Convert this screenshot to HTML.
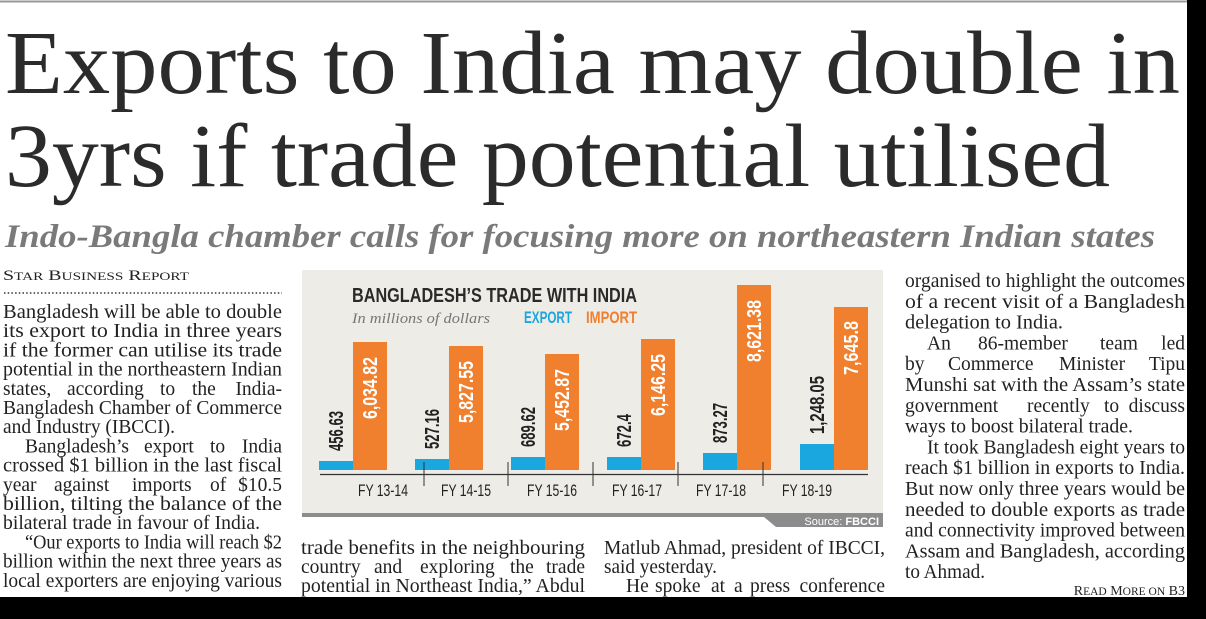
<!DOCTYPE html>
<html><head><meta charset="utf-8"><style>
html,body{margin:0;padding:0;background:#fff;}
svg{display:block;}
.b{font-family:"Liberation Serif",serif;font-size:19.5px;fill:#222;}
.n{font-family:"Liberation Sans Narrow","Liberation Sans",sans-serif;font-weight:bold;}
</style></head><body>
<svg width="1206" height="619" viewBox="0 0 1206 619" xmlns="http://www.w3.org/2000/svg">
<rect width="1206" height="619" fill="#fff"/>
<line x1="0" y1="1.5" x2="1187" y2="1.5" stroke="#999" stroke-width="2"/>
<g font-family="Liberation Serif, serif" fill="#2b2b2b" font-size="90">
<text x="5" y="93" textLength="1175" lengthAdjust="spacingAndGlyphs">Exports to India may double in</text>
<text x="5" y="186" textLength="1105" lengthAdjust="spacingAndGlyphs">3yrs if trade potential utilised</text>
</g>
<text x="5" y="247" font-family="Liberation Serif, serif" font-style="italic" font-weight="bold" font-size="33" fill="#7a7a7a" textLength="1150" lengthAdjust="spacingAndGlyphs">Indo-Bangla chamber calls for focusing more on northeastern Indian states</text>
<text x="3" y="280" font-family="Liberation Serif, serif" font-size="15" fill="#222" textLength="186" lengthAdjust="spacingAndGlyphs">S<tspan font-size="11.5">TAR</tspan> B<tspan font-size="11.5">USINESS</tspan> R<tspan font-size="11.5">EPORT</tspan></text>
<line x1="4" y1="293" x2="282" y2="293" stroke="#333" stroke-width="1.5" stroke-dasharray="1.5 2.2"/>
<g class="b">
<text x="3" y="318" textLength="279" lengthAdjust="spacingAndGlyphs">Bangladesh will be able to double</text>
<text x="3" y="337.2" textLength="279" lengthAdjust="spacingAndGlyphs">its export to India in three years</text>
<text x="3" y="356.4" textLength="279" lengthAdjust="spacingAndGlyphs">if the former can utilise its trade</text>
<text x="3" y="375.6" textLength="279" lengthAdjust="spacingAndGlyphs">potential in the northeastern Indian</text>
<text y="394.8"><tspan x="3">states,</tspan><tspan x="67">according</tspan><tspan x="160">to</tspan><tspan x="192">the</tspan><tspan x="282" text-anchor="end">India-</tspan></text>
<text x="3" y="414" textLength="279" lengthAdjust="spacingAndGlyphs">Bangladesh Chamber of Commerce</text>
<text x="3" y="433.2" textLength="172" lengthAdjust="spacingAndGlyphs">and Industry (IBCCI).</text>
<text y="452.4"><tspan x="25">Bangladesh’s</tspan><tspan x="144">export</tspan><tspan x="210">to</tspan><tspan x="282" text-anchor="end">India</tspan></text>
<text x="3" y="471.6" textLength="279" lengthAdjust="spacingAndGlyphs">crossed $1 billion in the last fiscal</text>
<text y="490.8"><tspan x="3">year</tspan><tspan x="54">against</tspan><tspan x="132">imports</tspan><tspan x="210">of</tspan><tspan x="282" text-anchor="end">$10.5</tspan></text>
<text x="3" y="510" textLength="279" lengthAdjust="spacingAndGlyphs">billion, tilting the balance of the</text>
<text x="3" y="529.2" textLength="257" lengthAdjust="spacingAndGlyphs">bilateral trade in favour of India.</text>
<text x="25" y="548.4" textLength="257" lengthAdjust="spacingAndGlyphs">“Our exports to India will reach $2</text>
<text x="3" y="567.6" textLength="279" lengthAdjust="spacingAndGlyphs">billion within the next three years as</text>
<text x="3" y="586.8" textLength="279" lengthAdjust="spacingAndGlyphs">local exporters are enjoying various</text>

<text x="301" y="554" textLength="284" lengthAdjust="spacingAndGlyphs">trade benefits in the neighbouring</text>
<text y="573"><tspan x="301">country</tspan><tspan x="374">and</tspan><tspan x="420">exploring</tspan><tspan x="510">the</tspan><tspan x="585" text-anchor="end">trade</tspan></text>
<text x="301" y="592" textLength="284" lengthAdjust="spacingAndGlyphs">potential in Northeast India,” Abdul</text>
<text x="604" y="554" textLength="281" lengthAdjust="spacingAndGlyphs">Matlub Ahmad, president of IBCCI,</text>
<text x="604" y="573" textLength="113" lengthAdjust="spacingAndGlyphs">said yesterday.</text>
<text y="592"><tspan x="626">He</tspan><tspan x="655">spoke</tspan><tspan x="711">at</tspan><tspan x="734">a</tspan><tspan x="750">press</tspan><tspan x="885" text-anchor="end">conference</tspan></text>

<text x="905" y="287" textLength="280" lengthAdjust="spacingAndGlyphs">organised to highlight the outcomes</text>
<text x="905" y="307.8" textLength="280" lengthAdjust="spacingAndGlyphs">of a recent visit of a Bangladesh</text>
<text x="905" y="328.6" textLength="158" lengthAdjust="spacingAndGlyphs">delegation to India.</text>
<text y="349.4"><tspan x="927">An</tspan><tspan x="978">86-member</tspan><tspan x="1100">team</tspan><tspan x="1185" text-anchor="end">led</tspan></text>
<text y="370.2"><tspan x="905">by</tspan><tspan x="948">Commerce</tspan><tspan x="1059">Minister</tspan><tspan x="1185" text-anchor="end">Tipu</tspan></text>
<text x="905" y="391" textLength="280" lengthAdjust="spacingAndGlyphs">Munshi sat with the Assam’s state</text>
<text y="411.8"><tspan x="905">government</tspan><tspan x="1027">recently</tspan><tspan x="1104">to</tspan><tspan x="1185" text-anchor="end">discuss</tspan></text>
<text x="905" y="432.6" textLength="228" lengthAdjust="spacingAndGlyphs">ways to boost bilateral trade.</text>
<text x="927" y="453.4" textLength="258" lengthAdjust="spacingAndGlyphs">It took Bangladesh eight years to</text>
<text x="905" y="474.2" textLength="280" lengthAdjust="spacingAndGlyphs">reach $1 billion in exports to India.</text>
<text x="905" y="495" textLength="280" lengthAdjust="spacingAndGlyphs">But now only three years would be</text>
<text x="905" y="515.8" textLength="280" lengthAdjust="spacingAndGlyphs">needed to double exports as trade</text>
<text x="905" y="536.6" textLength="280" lengthAdjust="spacingAndGlyphs">and connectivity improved between</text>
<text x="905" y="557.4" textLength="280" lengthAdjust="spacingAndGlyphs">Assam and Bangladesh, according</text>
<text x="905" y="578.2" textLength="80" lengthAdjust="spacingAndGlyphs">to Ahmad.</text>
</g>
<text x="1185" y="595" text-anchor="end" font-family="Liberation Serif, serif" font-size="14" fill="#222">R<tspan font-size="11.5">EAD</tspan> M<tspan font-size="11.5">ORE ON</tspan> B3</text>

<!-- chart panel -->
<rect x="302" y="270" width="581" height="243" fill="#eeece7"/>
<rect x="302" y="513" width="581" height="4" fill="#8c8c8c"/>
<polygon points="764,517 883,517 883,527 776,527" fill="#8c8c8c"/>
<text x="879" y="525" text-anchor="end" font-family="Liberation Sans, sans-serif" font-size="11" fill="#fff">Source: <tspan font-weight="bold">FBCCI</tspan></text>
<text x="352" y="302" class="n" font-size="20" fill="#2a2a2a" textLength="285" lengthAdjust="spacingAndGlyphs">BANGLADESH’S TRADE WITH INDIA</text>
<text x="352" y="323" font-family="Liberation Serif, serif" font-style="italic" font-size="15" fill="#777" textLength="138" lengthAdjust="spacingAndGlyphs">In millions of dollars</text>
<text x="524" y="323" class="n" font-size="17" fill="#1aa6df" textLength="48" lengthAdjust="spacingAndGlyphs">EXPORT</text>
<text x="586" y="323" class="n" font-size="17" fill="#f07f2e" textLength="51" lengthAdjust="spacingAndGlyphs">IMPORT</text>

<g>
<rect x="319" y="461" width="34" height="9" fill="#1aa6df"/><rect x="353" y="342" width="34" height="128" fill="#f07f2e"/>
<rect x="415" y="459" width="34" height="11" fill="#1aa6df"/><rect x="449" y="346" width="34" height="124" fill="#f07f2e"/>
<rect x="511" y="457" width="34" height="13" fill="#1aa6df"/><rect x="545" y="354" width="34" height="116" fill="#f07f2e"/>
<rect x="607" y="457" width="34" height="13" fill="#1aa6df"/><rect x="641" y="339" width="34" height="131" fill="#f07f2e"/>
<rect x="703" y="453" width="34" height="17" fill="#1aa6df"/><rect x="737" y="285" width="34" height="185" fill="#f07f2e"/>
<rect x="800" y="444" width="34" height="26" fill="#1aa6df"/><rect x="834" y="307" width="34" height="163" fill="#f07f2e"/>
</g>
<line x1="320" y1="474.5" x2="868" y2="474.5" stroke="#333" stroke-width="1.2"/>
<g stroke="#333" stroke-width="1">
<line x1="424" y1="462" x2="424" y2="486"/><line x1="508" y1="462" x2="508" y2="486"/>
<line x1="593" y1="462" x2="593" y2="486"/><line x1="678" y1="462" x2="678" y2="486"/>
<line x1="763" y1="462" x2="763" y2="486"/>
</g>
<g font-family="Liberation Sans Narrow, Liberation Sans, sans-serif" font-size="17" fill="#222">
<text x="358" y="496" textLength="50" lengthAdjust="spacingAndGlyphs">FY 13-14</text>
<text x="441" y="496" textLength="50" lengthAdjust="spacingAndGlyphs">FY 14-15</text>
<text x="527" y="496" textLength="50" lengthAdjust="spacingAndGlyphs">FY 15-16</text>
<text x="612" y="496" textLength="50" lengthAdjust="spacingAndGlyphs">FY 16-17</text>
<text x="696" y="496" textLength="50" lengthAdjust="spacingAndGlyphs">FY 17-18</text>
<text x="782" y="496" textLength="50" lengthAdjust="spacingAndGlyphs">FY 18-19</text>
</g>
<g class="n" font-size="20" fill="#222">
<text transform="translate(343,451) rotate(-90)" textLength="40" lengthAdjust="spacingAndGlyphs">456.63</text>
<text transform="translate(439,449) rotate(-90)" textLength="40" lengthAdjust="spacingAndGlyphs">527.16</text>
<text transform="translate(535,447) rotate(-90)" textLength="40" lengthAdjust="spacingAndGlyphs">689.62</text>
<text transform="translate(631,447) rotate(-90)" textLength="33" lengthAdjust="spacingAndGlyphs">672.4</text>
<text transform="translate(727,443) rotate(-90)" textLength="40" lengthAdjust="spacingAndGlyphs">873.27</text>
<text transform="translate(824,434) rotate(-90)" textLength="58" lengthAdjust="spacingAndGlyphs">1,248.05</text>
</g>
<g class="n" font-size="20" fill="#fff">
<text transform="translate(377,419) rotate(-90)" textLength="62" lengthAdjust="spacingAndGlyphs">6,034.82</text>
<text transform="translate(473,423) rotate(-90)" textLength="62" lengthAdjust="spacingAndGlyphs">5,827.55</text>
<text transform="translate(569,431) rotate(-90)" textLength="62" lengthAdjust="spacingAndGlyphs">5,452.87</text>
<text transform="translate(665,416) rotate(-90)" textLength="62" lengthAdjust="spacingAndGlyphs">6,146.25</text>
<text transform="translate(761,362) rotate(-90)" textLength="62" lengthAdjust="spacingAndGlyphs">8,621.38</text>
<text transform="translate(858,375) rotate(-90)" textLength="54" lengthAdjust="spacingAndGlyphs">7,645.8</text>
</g>

<rect x="1187" y="0" width="19" height="619" fill="#000"/>
<rect x="0" y="597" width="1206" height="22" fill="#000"/>
</svg>
</body></html>
